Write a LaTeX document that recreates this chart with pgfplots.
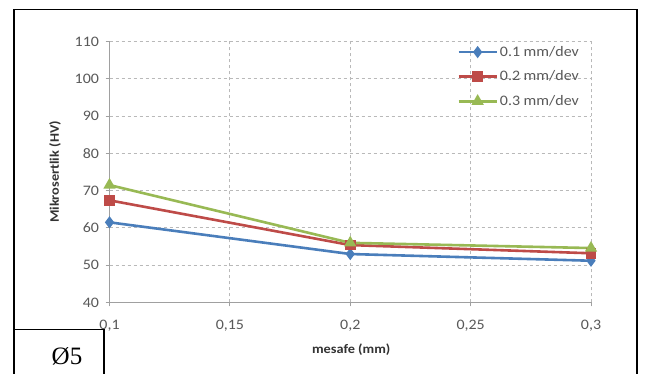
\documentclass[border=0pt]{standalone}
\usepackage{fontspec}
\setmainfont{Carlito}[FakeStretch=1.1]
\newfontfamily\serifw{Liberation Serif}
\usepackage{pgfplots}
\pgfplotsset{compat=1.18}
\definecolor{cblue}{RGB}{74,126,187}
\definecolor{cred}{RGB}{190,75,72}
\definecolor{cgreen}{RGB}{152,185,84}
\definecolor{tickgray}{RGB}{89,89,89}
\definecolor{axgray}{RGB}{160,160,160}
\definecolor{gridgray}{RGB}{185,185,185}
\begin{document}
\begin{tikzpicture}[x=1pt,y=1pt]
\useasboundingbox (0,0) rectangle (648,374);
\fill[white] (0,0) rectangle (648,374);
\begin{axis}[
  at={(109.5pt,71.5pt)}, anchor=south west,
  scale only axis, width=481.5pt, height=261pt,
  xmin=0.1, xmax=0.3, ymin=40, ymax=110,
  xtick={0.1,0.15,0.2,0.25,0.3},
  xticklabels={{0,1},{0,15},{0,2},{0,25},{0,3}},
  ytick={40,50,60,70,80,90,100,110},
  /pgf/number format/assume math mode=true,
  grid=major,
  grid style={dash pattern=on 3pt off 3pt, gridgray, line width=1pt},
  axis x line*=bottom, axis y line*=left,
  axis line style={axgray, -, line width=1pt},
  tick style={axgray, line width=1pt},
  tick align=outside, major tick length=4pt,
  tick label style={font=\fontsize{14.5}{16}\selectfont, text=tickgray},
  x tick label style={yshift=-10pt},
  y tick label style={xshift=-3pt},
  xlabel={\textbf{mesafe (mm)}},
  xlabel style={at={(axis description cs:0.502,-0.18)}, anchor=center, font=\fontsize{13}{15}\selectfont, text=black!80},
  ylabel={\textbf{Mikrosertlik (HV)}},
  ylabel style={at={(axis description cs:-0.113,0.5)}, anchor=center, font=\fontsize{13}{15}\selectfont, text=black!80},
  legend style={at={(axis description cs:0.722,0.99)}, anchor=north west, draw=none, fill=none,
    font=\fontsize{14.5}{16}\selectfont, text=tickgray, row sep=9pt, inner sep=0pt,
    /tikz/every even column/.append style={column sep=0pt}},
  legend cell align=left,
  legend image code/.code={
    \draw[#1, mark repeat=2, mark phase=2] plot coordinates {(0pt,0pt) (19pt,0pt) (38pt,0pt)};
  },
]
\addplot[cblue, line width=2.6pt, mark=diamond*, mark size=4pt] coordinates {(0.1,61.5) (0.2,53) (0.3,51.2)};
\addlegendentry{0.1 mm/dev}
\addplot[cred, line width=2.6pt, mark=square*, mark size=4pt] coordinates {(0.1,67.4) (0.2,55.4) (0.3,53.2)};
\addlegendentry{0.2 mm/dev}
\addplot[cgreen, line width=2.6pt, mark=triangle*, mark size=4.5pt] coordinates {(0.1,71.5) (0.2,56) (0.3,54.6)};
\addlegendentry{0.3 mm/dev}
\end{axis}
\draw[line width=1.5pt] (14,-2) -- (14,364.7) -- (636.8,364.7) -- (636.8,-2);
\draw[line width=1.5pt] (14,44.5) -- (104,44.5) -- (104,-2);
\node[anchor=base west, inner sep=0pt, font=\serifw\fontsize{25}{28}\selectfont] at (51.5,9) {Ø5};
\end{tikzpicture}
\end{document}
